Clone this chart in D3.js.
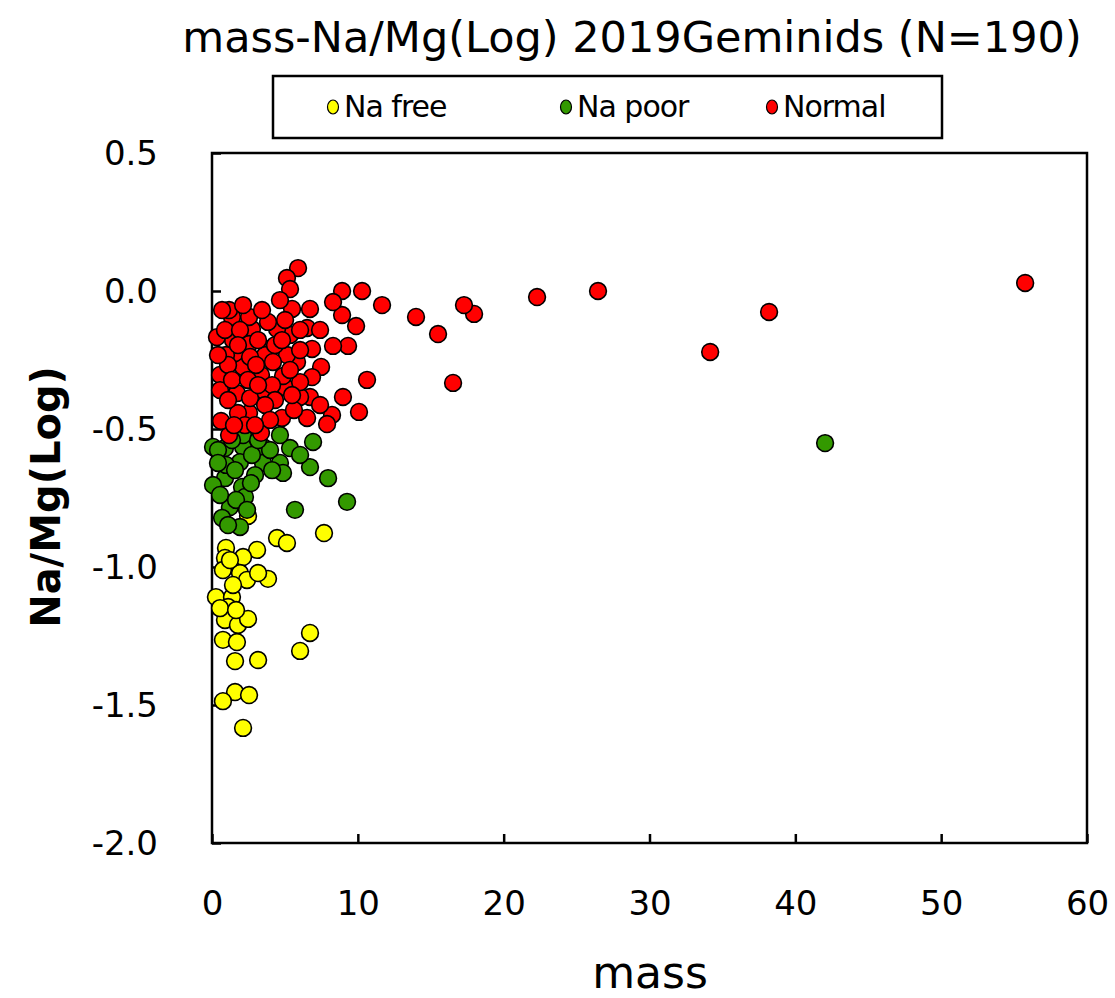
<!DOCTYPE html>
<html><head><meta charset="utf-8">
<script src="https://cdn.jsdelivr.net/npm/d3@7"></script>
<style>body{margin:0;background:#fff}svg{display:block}</style>
</head><body>
<script>
const titleText = "mass-Na/Mg(Log) 2019Geminids (N=190)";
const seriesNames = ["Na free", "Na poor", "Normal"];
const seriesColors = ["#ffff00", "#339900", "#ff0000"];
const xTicks = [0, 10, 20, 30, 40, 50, 60];
const yTicks = [0.5, 0.0, -0.5, -1.0, -1.5, -2.0];

const naFreeMass = [2.47,4.46,5.14,7.68,0.96,3.09,0.89,2.13,0.75,1.92,2.40,3.84,0.27,1.37,1.10,0.89,1.78,2.47,6.72,6.04,0.75,1.71,1.58,3.16,1.58,0.75,2.54,2.13,1.23,0.55,1.65,1.44,3.16];
const naFreeRatio = [-0.815,-0.895,-0.913,-0.877,-0.931,-0.938,-0.967,-0.964,-1.011,-1.022,-1.047,-1.043,-1.109,-1.109,-1.145,-1.192,-1.210,-1.188,-1.239,-1.304,-1.264,-1.272,-1.341,-1.337,-1.453,-1.486,-1.464,-1.583,-0.975,-1.149,-1.156,-1.065,-1.022];

const naPoorMass = [0.07,0.89,2.13,3.50,5.35,6.93,1.92,3.50,4.66,4.87,6.72,7.96,0.89,0.07,2.06,2.26,1.23,0.69,1.92,1.10,5.69,9.26,42.04,2.13,4.66,0.41,0.96,2.74,3.98,1.58,2.95,0.55,1.65,2.67,6.04,4.12,0.41,2.40,1.37,3.16];
const naPoorRatio = [-0.565,-0.569,-0.565,-0.565,-0.569,-0.547,-0.620,-0.623,-0.623,-0.659,-0.638,-0.678,-0.678,-0.703,-0.710,-0.746,-0.783,-0.822,-0.855,-0.848,-0.793,-0.764,-0.551,-0.522,-0.522,-0.576,-0.630,-0.594,-0.576,-0.649,-0.667,-0.739,-0.757,-0.696,-0.594,-0.649,-0.623,-0.793,-0.540,-0.540];

const normalMass = [55.76,38.20,34.16,26.47,22.29,17.97,17.28,16.53,15.50,13.99,11.66,10.63,10.29,10.08,9.88,8.92,9.33,8.92,8.98,8.30,8.30,8.23,7.89,7.48,6.86,6.86,6.72,6.72,6.52,6.52,5.90,5.14,5.35,5.49,6.04,5.83,5.14,5.35,5.01,4.87,4.80,4.46,3.91,3.84,3.50,3.36,3.36,2.74,2.54,2.54,2.54,2.13,1.78,1.71,1.58,1.44,1.37,1.17,1.17,0.55,0.55,0.62,0.34,3.64,6.04,5.62,0.89,1.92,3.16,4.32,0.96,2.61,1.10,3.02,4.18,1.37,2.47,4.12,1.10,2.61,4.32,5.35,5.49,3.64,2.26,3.98,5.01,3.43,2.13,0.41,0.69,4.66,6.04,7.41,1.78,3.16,1.51,2.95,4.80,6.04,7.41];
const normalRatio = [0.029,-0.076,-0.221,0.0,-0.022,-0.083,-0.051,-0.333,-0.156,-0.094,-0.051,-0.322,0.0,-0.438,-0.127,0.0,-0.199,-0.087,-0.384,-0.040,-0.199,-0.449,-0.482,-0.275,-0.312,-0.210,-0.065,-0.384,-0.134,-0.460,0.083,0.047,0.007,-0.065,-0.384,-0.257,-0.232,-0.159,-0.348,-0.308,-0.460,-0.138,-0.210,-0.112,-0.359,-0.304,-0.514,-0.138,-0.094,-0.192,-0.442,-0.275,-0.442,-0.370,-0.225,-0.178,-0.094,-0.069,-0.522,-0.304,-0.359,-0.471,-0.167,-0.232,-0.330,-0.431,-0.141,-0.141,-0.178,-0.196,-0.232,-0.239,-0.268,-0.268,-0.257,-0.322,-0.322,-0.341,-0.395,-0.388,-0.395,-0.286,-0.377,-0.413,-0.486,-0.467,-0.105,-0.069,-0.051,-0.232,-0.069,-0.033,-0.141,-0.141,-0.196,-0.341,-0.486,-0.486,-0.178,-0.214,-0.413];

const W = 1115, H = 998;
const m = {left: 212, right: 1087, top: 153, bottom: 843};
const svg = d3.select("body").append("svg").attr("width", W).attr("height", H);
const FONT = "'DejaVu Sans', Verdana, sans-serif";

const x = d3.scaleLinear().domain([0, 60]).range([m.left, m.right]);
const y = d3.scaleLinear().domain([-2.0, 0.5]).range([m.bottom, m.top]);

// title
svg.append("text").attr("x", 632).attr("y", 52).attr("text-anchor", "middle")
  .attr("font-family", FONT).attr("font-size", 43).attr("fill", "#000").text(titleText);

// legend
const lg = svg.append("g");
lg.append("rect").attr("x", 273).attr("y", 76).attr("width", 669).attr("height", 62)
  .attr("fill", "#fff").attr("stroke", "#000").attr("stroke-width", 2.5);
const legendX = [333, 566, 772];
seriesNames.forEach((n, i) => {
  lg.append("ellipse").attr("cx", legendX[i]).attr("cy", 107).attr("rx", 5.5).attr("ry", 7)
    .attr("fill", seriesColors[i]).attr("stroke", "#000").attr("stroke-width", 1.2);
  lg.append("text").attr("x", legendX[i] + 11).attr("y", 117)
    .attr("font-family", FONT).attr("font-size", 30).attr("letter-spacing", -1).attr("fill", "#000").text(n);
});

// axes
const hy = d => d3.format(".1f")(d).replace("\u2212", "-");
const xAxis = d3.axisBottom(x).tickValues(xTicks).tickSizeInner(-9).tickSizeOuter(0).tickPadding(48).tickFormat(d3.format("d"));
const yAxis = d3.axisLeft(y).tickValues(yTicks).tickSizeInner(-9).tickSizeOuter(0).tickPadding(54).tickFormat(hy);
const gx = svg.append("g").attr("transform", `translate(0,${m.bottom})`).call(xAxis);
const gy = svg.append("g").attr("transform", `translate(${m.left},0)`).call(yAxis);
[gx, gy].forEach(g => {
  g.select(".domain").remove();
  g.selectAll(".tick line").attr("stroke", "#000").attr("stroke-width", 2.5);
  g.selectAll("text").attr("font-family", FONT).attr("font-size", 34).attr("fill", "#000");
});
gy.selectAll(".tick text").attr("dy", "0.35em");
gx.selectAll(".tick text").attr("dy", "0.71em");

// frame
svg.append("rect").attr("x", m.left).attr("y", m.top).attr("width", m.right - m.left).attr("height", m.bottom - m.top)
  .attr("fill", "none").attr("stroke", "#000").attr("stroke-width", 2.5);

// axis labels
svg.append("text").attr("x", 650).attr("y", 988).attr("text-anchor", "middle")
  .attr("font-family", FONT).attr("font-size", 44).attr("fill", "#000").text("mass");
svg.append("text").attr("transform", "translate(60,497) rotate(-90)").attr("text-anchor", "middle")
  .attr("font-family", FONT).attr("font-size", 40).attr("font-weight", "bold").attr("fill", "#000").text("Na/Mg(Log)");

// points
const series = [
  {mass: naFreeMass, ratio: naFreeRatio, color: seriesColors[0]},
  {mass: naPoorMass, ratio: naPoorRatio, color: seriesColors[1]},
  {mass: normalMass, ratio: normalRatio, color: seriesColors[2]}
];
const pg = svg.append("g");
series.forEach(s => {
  pg.selectAll(null).data(s.mass.map((v, i) => [v, s.ratio[i]])).enter().append("circle")
    .attr("cx", d => x(d[0])).attr("cy", d => y(d[1])).attr("r", 8.4)
    .attr("fill", s.color).attr("stroke", "#000").attr("stroke-width", 1.6);
});
</script>
</body></html>
